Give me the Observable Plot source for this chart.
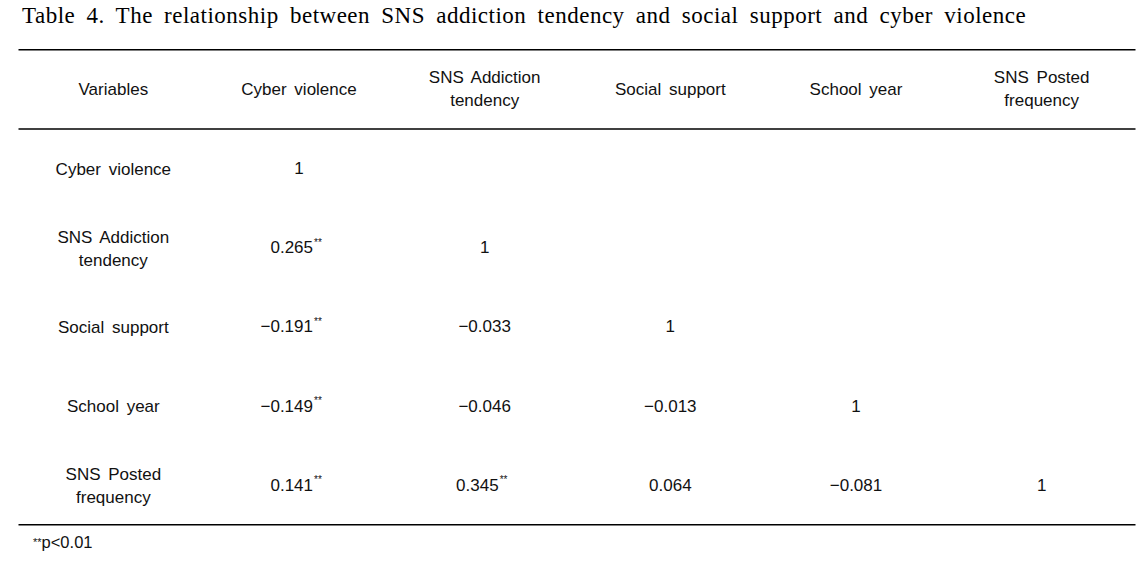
<!DOCTYPE html>
<html>
<head>
<meta charset="utf-8">
<script src="https://cdn.jsdelivr.net/npm/d3@7"></script>
<script src="https://cdn.jsdelivr.net/npm/@observablehq/plot@0.6"></script>
<style>
  html, body { margin: 0; padding: 0; background: #fff; }
  #title {
    height: 36px; line-height: 32px; padding-left: 22px;
    font-family: "Liberation Serif", serif; font-size: 23px;
    letter-spacing: 0.5px; word-spacing: 5px; color: #000; white-space: nowrap;
  }
  #note {
    padding-left: 33px; font-family: "Liberation Sans", sans-serif;
    font-size: 16.5px; line-height: 18px; color: #111; margin-top: -3px;
  }
  #note sup { font-size: 11px; vertical-align: 2px; }
  svg text { word-spacing: 3px; }
</style>
</head>
<body>
<div id="title">Table 4. The relationship between SNS addiction tendency and social support and cyber violence</div>
<div id="chart"></div>
<div id="note"><sup>**</sup>p&lt;0.01</div>
<script>
// ---- data ----
const variables = ["Cyber violence", "SNS Addiction\ntendency", "Social support", "School year", "SNS Posted\nfrequency"];
const headerLabel = "Variables";
const correlations = [
  [1],
  [0.265, 1],
  [-0.191, -0.033, 1],
  [-0.149, -0.046, -0.013, 1],
  [0.141, 0.345, 0.064, -0.081, 1]
];
const significant = [
  [false],
  [true, false],
  [true, false, false],
  [true, false, false, false],
  [true, true, false, false, false]
];
const footnote = "**p<0.01";

// ---- build table cells ----
const fmt = v => v === 1 ? "1" : (v < 0 ? "\u2212" : "") + Math.abs(v).toFixed(3);
const headerCells = [headerLabel, ...variables].map((t, j) => ({col: j + 0.5, row: 0.5, text: t}));
const rowLabelCells = variables.map((t, i) => ({col: 0.5, row: i + 1.5, text: t}));
const valueCells = [];
correlations.forEach((r, i) => r.forEach((v, j) => valueCells.push({
  col: j + 1.5, row: i + 1.5, text: fmt(v), star: significant[i][j]
})));
const plainCells = valueCells.filter(d => !d.star);
const starCells = valueCells.filter(d => d.star);
const rules = [0, 1, variables.length + 1];

const font = "Liberation Sans, Arial, sans-serif";
const color = "#111";

const chart = Plot.plot({
  width: 1147,
  height: 500,
  margin: 0,
  x: {type: "linear", domain: [0, 6], range: [20, 1134], axis: null},
  y: {type: "linear", domain: [0, 6], range: [13.3, 488.3], axis: null},
  style: {fontFamily: font, background: "#fff"},
  marks: [
    Plot.ruleY(rules, {y: d => d, x1: 0, x2: 6, stroke: "#000", strokeWidth: 1.6, insetLeft: -1.5, insetRight: -1.5}),
    Plot.text(headerCells, {x: "col", y: "row", text: "text", fontSize: 17, lineHeight: 1.36, fill: color, dy: -2}),
    Plot.text(rowLabelCells, {x: "col", y: "row", text: "text", fontSize: 17, lineHeight: 1.36, fill: color, dy: -1}),
    Plot.text(plainCells, {x: "col", y: "row", text: "text", fontSize: 17, fill: color}),
    Plot.text(starCells, {x: "col", y: "row", text: "text", fontSize: 17, fill: color, textAnchor: "end", dx: 14}),
    Plot.text(starCells, {x: "col", y: "row", text: () => "**", fontSize: 10, fill: color, textAnchor: "start", dx: 15, dy: -5})
  ]
});
document.getElementById("chart").appendChild(chart);
</script>
</body>
</html>
